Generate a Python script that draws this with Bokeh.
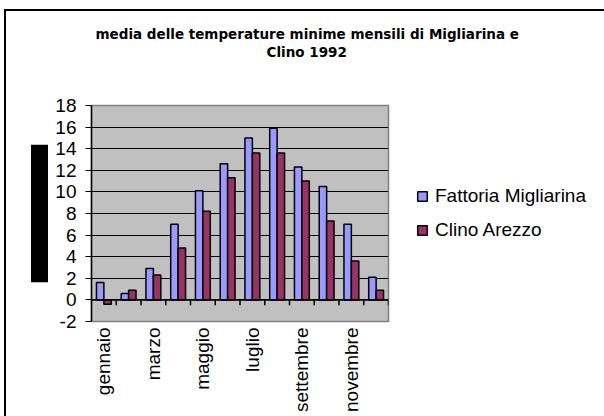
from math import pi
from bokeh.plotting import figure
from bokeh.models import (ColumnDataSource, Range1d, FixedTicker,
                          Legend, LegendItem, Title)
from bokeh.transform import dodge
from bokeh.embed import file_html
from bokeh.resources import INLINE

months = ["gennaio", "febbraio", "marzo", "aprile", "maggio", "giugno",
          "luglio", "agosto", "settembre", "ottobre", "novembre", "dicembre"]
fattoria = [1.6, 0.6, 2.9, 7.0, 10.1, 12.6, 15.0, 15.9, 12.3, 10.5, 7.0, 2.1]
clino = [-0.4, 0.9, 2.3, 4.8, 8.2, 11.3, 13.6, 13.6, 11.0, 7.3, 3.6, 0.9]
y_ticks = [-2, 0, 2, 4, 6, 8, 10, 12, 14, 16, 18]
shown_labels = ["gennaio", "marzo", "maggio", "luglio", "settembre", "novembre"]
title_lines = ["media delle temperature minime mensili di Migliarina e", "Clino 1992"]
series_names = ["Fattoria Migliarina", "Clino Arezzo"]

FONT = "Liberation Sans"
TICK_LEN = 0.5

idx = list(range(len(months)))
src = ColumnDataSource(dict(idx=idx, month=months, fattoria=fattoria, clino=clino,
                            zero=[0] * len(months),
                            tick=[-TICK_LEN] * len(months)))

p = figure(x_range=Range1d(-0.5, len(months) - 0.5),
           y_range=Range1d(y_ticks[0], y_ticks[-1]),
           frame_width=297, frame_height=216, output_backend="svg",
           toolbar_location=None,
           min_border_left=85, min_border_right=216, min_border_top=94,
           min_border_bottom=95,
           styles={"margin-left": "4px", "margin-top": "9px",
                   "border-left": "2px solid #000", "border-top": "2px solid #000"})
p.title.visible = False
p.background_fill_color = "#C0C0C0"
p.border_fill_color = "white"
p.outline_line_color = "#808080"
p.outline_line_width = 1.5

# grid
p.xgrid.visible = False
p.ygrid.ticker = FixedTicker(ticks=[t for t in y_ticks if y_ticks[0] < t < y_ticks[-1]])
p.ygrid.grid_line_color = "black"
p.ygrid.grid_line_width = 1

# y axis
p.yaxis.ticker = FixedTicker(ticks=y_ticks)
p.yaxis.major_label_overrides = {t: str(t) for t in y_ticks}
p.yaxis.axis_line_color = "black"
p.yaxis.axis_line_width = 1.5
p.yaxis.major_tick_out = 6
p.yaxis.major_tick_in = 0
p.yaxis.minor_tick_line_color = None
p.yaxis.major_label_text_font = FONT
p.yaxis.major_label_text_font_size = "19px"
p.yaxis.major_label_text_color = "black"
p.yaxis.major_label_standoff = 9

# x axis: every other month labelled
shown_idx = [i for i, m in enumerate(months) if m in shown_labels]
p.xaxis.ticker = FixedTicker(ticks=shown_idx)
p.xaxis.major_label_overrides = {i: months[i] for i in shown_idx}
p.xaxis.axis_line_color = None
p.xaxis.major_tick_line_color = None
p.xaxis.minor_tick_line_color = None
p.xaxis.major_label_orientation = pi / 2
p.xaxis.major_label_standoff = 0
p.xaxis.major_label_text_font = FONT
p.xaxis.major_label_text_font_size = "19px"
p.xaxis.major_label_text_color = "black"

r1 = p.vbar(x=dodge("idx", -0.15), top="fattoria", bottom=0,
            width=0.3, source=src, fill_color="#9999FF", line_color="black",
            line_width=1.5)
r2 = p.vbar(x=dodge("idx", 0.15), top="clino", bottom=0,
            width=0.3, source=src, fill_color="#993366", line_color="black",
            line_width=1.5)

# category tick marks on the zero line
p.segment(x0=dodge("idx", 0.5), y0="zero", x1=dodge("idx", 0.5), y1="tick",
          source=src, line_color="black", line_width=1.5)
p.segment(x0=dodge("idx", -0.5), y0="zero", x1=dodge("idx", 0.5), y1="zero",
          source=src, line_color="black", line_width=1.5)

legend = Legend(items=[LegendItem(label=series_names[0], renderers=[r1]),
                       LegendItem(label=series_names[1], renderers=[r2])],
                location="center_left", orientation="vertical",
                border_line_color=None, background_fill_alpha=0,
                glyph_width=12, glyph_height=12, label_standoff=7,
                spacing=12, padding=0, margin=28,
                label_text_font=FONT, label_text_font_size="19px",
                label_text_color="black")
p.add_layout(legend, "right")

# main title: spacer nearest the frame, then the two lines
title_style = dict(text_font="DejaVu Sans", text_font_style="bold",
                   text_font_size="13.5px", text_color="black")
p.add_layout(Title(text="\u00a0", align="left", standoff=28, **title_style), "above")
p.add_layout(Title(text=title_lines[1], align="left", offset=175, standoff=0,
                   **title_style), "above")
p.add_layout(Title(text=title_lines[0], align="left", offset=4, standoff=0,
                   **title_style), "above")

# black block where the y-axis title sits
p.add_layout(Title(text="\u00a0" * 33, align="center", text_font=FONT,
                   text_font_size="15px", text_color="black",
                   background_fill_color="black", standoff=9), "left")

open("out.html", "w").write(file_html(p, INLINE))
